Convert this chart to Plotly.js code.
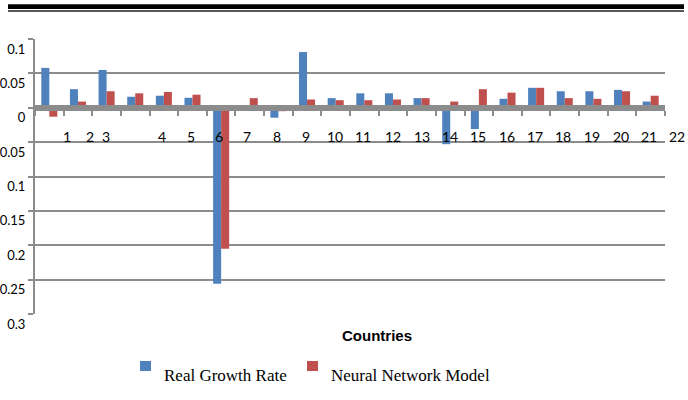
<!DOCTYPE html>
<html>
<head>
<meta charset="utf-8">
<script src="https://cdn.plot.ly/plotly-3.0.1.min.js"></script>
<style>html,body{margin:0;padding:0;background:#fff;}#chart{width:688px;height:400px;}</style>
</head>
<body>
<div id="chart"></div>
<script>
// ---- data ----
var categories = [1,2,3,4,5,6,7,8,9,10,11,12,13,14,15,16,17,18,19,20,21,22];
var realGrowth = [0.058, 0.027, 0.055, 0.016, 0.0175, 0.0145, -0.256, 0.002, -0.0145, 0.081, 0.014,
                  0.021, 0.021, 0.014, -0.053, -0.031, 0.013, 0.029, 0.024, 0.024, 0.026, 0.009];
var neuralNet  = [-0.013, 0.009, 0.024, 0.021, 0.023, 0.019, -0.205, 0.014, -0.005, 0.012, 0.011,
                  0.011, 0.012, 0.014, 0.009, 0.027, 0.022, 0.029, 0.014, 0.013, 0.024, 0.0175];
var seriesNames = ['Real Growth Rate', 'Neural Network Model'];
var xLabels = ['1','2','3','4','5','6','7','8','9','10','11','12','13','14','15','16','17','18','19','20','21','22'];
var yTickVals = [0.1, 0.05, 0, -0.05, -0.1, -0.15, -0.2, -0.25, -0.3];
var yTickText = ['0.1','0.05','0','0.05','0.1','0.15','0.2','0.25','0.3'];
var xTitle = 'Countries';

// ---- layout helpers (positions / styles) ----
var xLabelPos = [1.61, 2.42, 2.98, 4.93, 5.95, 6.93, 7.89, 8.95, 9.96, 10.98, 11.95, 13.0,
                 14.01, 15.0, 15.97, 16.99, 17.97, 18.94, 19.95, 20.96, 21.95, 22.92];
var X_RANGE = [0.5, 22.5];
var W = 688, H = 400, ML = 35, MR = 23, MT = 39, MB = 86;
var PW = W - ML - MR, PH = H - MT - MB;
function px(x) { return (x - ML) / PW; }
function py(y) { return (H - MB - y) / PH; }
function dataToPaperX(v) { return (v - X_RANGE[0]) / (X_RANGE[1] - X_RANGE[0]); }
var BLUE = '#4F81BD', RED = '#C0504D', GRAY = '#8c8c8c';

var boundaries = categories.map(function (c) { return c - 0.5; });
boundaries.push(categories[categories.length - 1] + 0.5);

var traces = [
  {type: 'bar', x: categories, y: realGrowth, name: seriesNames[0], marker: {color: BLUE}},
  {type: 'bar', x: categories, y: neuralNet, name: seriesNames[1], marker: {color: RED}}
];

var annotations = xLabels.map(function (t, i) {
  return {x: dataToPaperX(xLabelPos[i]), y: 0, xref: 'paper', yref: 'y', text: t, showarrow: false,
          xanchor: 'center', yanchor: 'middle', yshift: -29,
          font: {family: 'Lato, Liberation Sans, sans-serif', size: 14, color: '#000'}};
});
annotations.push({x: px(376.5), y: py(335), xref: 'paper', yref: 'paper', text: '<b>' + xTitle + '</b>',
  showarrow: false, xanchor: 'center', yanchor: 'middle',
  font: {family: 'Liberation Sans, Arial, sans-serif', size: 15, color: '#000'}});
annotations.push({x: px(162), y: py(375), xref: 'paper', yref: 'paper', text: seriesNames[0],
  showarrow: false, xanchor: 'left', yanchor: 'middle',
  font: {family: 'Liberation Serif, Times New Roman, serif', size: 17, color: '#000'}});
annotations.push({x: px(329), y: py(375), xref: 'paper', yref: 'paper', text: seriesNames[1],
  showarrow: false, xanchor: 'left', yanchor: 'middle',
  font: {family: 'Liberation Serif, Times New Roman, serif', size: 17, color: '#000'}});

var shapes = [
  {type: 'rect', xref: 'paper', yref: 'paper', x0: px(140), x1: px(151), y0: py(371), y1: py(361),
   fillcolor: BLUE, line: {width: 0}},
  {type: 'rect', xref: 'paper', yref: 'paper', x0: px(307), x1: px(318), y0: py(371), y1: py(361),
   fillcolor: RED, line: {width: 0}},
  {type: 'rect', xref: 'paper', yref: 'paper', x0: px(8), x1: px(684), y0: py(9), y1: py(4.3),
   fillcolor: '#000', line: {width: 0}},
  {type: 'rect', xref: 'paper', yref: 'paper', x0: px(8), x1: px(684), y0: py(11.7), y1: py(10.3),
   fillcolor: '#222', line: {width: 0}}
];

var layout = {
  width: W, height: H,
  margin: {l: ML, r: MR, t: MT, b: MB, pad: 0},
  paper_bgcolor: '#fff', plot_bgcolor: '#fff',
  showlegend: false,
  barmode: 'group', bargap: 0.44, bargroupgap: 0,
  xaxis: {
    type: 'linear', range: X_RANGE, anchor: 'free', position: 0.75,
    showline: true, linewidth: 6, linecolor: GRAY, layer: 'above traces',
    ticks: 'outside', tickmode: 'array', tickvals: boundaries, ticklen: 5, tickwidth: 2, tickcolor: GRAY,
    showticklabels: false, showgrid: false, zeroline: false
  },
  yaxis: {
    range: [-0.3, 0.1], tickmode: 'array', tickvals: yTickVals, ticktext: yTickText,
    showgrid: true, gridcolor: GRAY, gridwidth: 2,
    showline: true, linecolor: GRAY, linewidth: 2,
    ticks: 'outside', ticklen: 5, tickwidth: 2, tickcolor: GRAY,
    zeroline: false, ticklabelshift: 10,
    tickfont: {family: 'Lato, Liberation Sans, sans-serif', size: 13, color: '#000'}
  },
  annotations: annotations,
  shapes: shapes
};

Plotly.newPlot('chart', traces, layout, {displayModeBar: false, staticPlot: true});
</script>
</body>
</html>
